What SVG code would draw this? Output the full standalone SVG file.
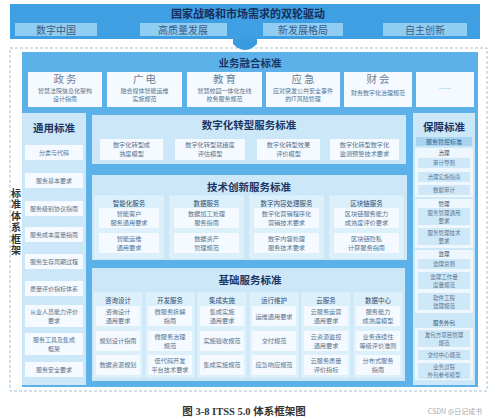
<svg xmlns="http://www.w3.org/2000/svg" width="499" height="419" viewBox="0 0 499 419">
<style>
text{font-family:"Noto Sans CJK SC","Noto Sans",sans-serif;text-anchor:middle}
.h{font-weight:700;fill:#1b3565;font-size:10.5px}
.bt{font-size:10px;fill:#3b5b86}
.it{font-size:6px;fill:#56728f}
.rt{font-size:5.5px;fill:#56728f}
.mi{font-size:6.2px;fill:#56728f}
.ch{font-size:6.5px;fill:#2d4a6e}
.bz{font-size:10.5px;fill:#6b8099;letter-spacing:2px}
.bd{font-size:6px;fill:#56728f}
.wb{fill:#f4faff}
.lp{fill:#cbe7f8}
.col{fill:#dcf0fb;stroke:#eef8ff;stroke-width:0.6}
.grp{fill:#eef7fd}
.rb{fill:#cfe8f8}
</style>
<rect width="499" height="419" fill="#ffffff"/>
<g id="banner">
<rect x="10" y="4" width="470" height="35" fill="#3ea0e2"/>
<text x="248" y="18" style="font-size:11px;font-weight:700;fill:#182d5a">国家战略和市场需求的双轮驱动</text>
<rect x="15" y="23" width="82" height="13" fill="#8fcdf2"/>
<text class="bt" x="56" y="33.5">数字中国</text>
<rect x="140" y="23" width="87" height="13" fill="#8fcdf2"/>
<text class="bt" x="183" y="33.5">高质量发展</text>
<rect x="263" y="23" width="80" height="13" fill="#8fcdf2"/>
<text class="bt" x="303" y="33.5">新发展格局</text>
<rect x="383" y="23" width="84" height="13" fill="#8fcdf2"/>
<text class="bt" x="425" y="33.5">自主创新</text>
</g>
<g id="connectors">
<rect x="10" y="48" width="477" height="343" fill="none" stroke="#8aaecb" stroke-width="0.8" stroke-dasharray="3 2"/>
<path d="M233,39 L257,39 L257,44 Q245,56 233,44 Z" fill="#3a9be0"/>
</g>
<rect x="22" y="52" width="456" height="335" fill="#5cb1e9"/>
<g id="business">
<text class="h" x="250" y="66.5">业务融合标准</text>
<rect class="wb" x="28" y="72" width="74" height="35"/>
<text class="bz" x="66" y="83">政务</text>
<text class="bd" x="65" y="93">智慧法院信息化架构</text>
<text class="bd" x="65" y="101">设计指南</text>
<rect class="wb" x="107" y="72" width="75" height="35"/>
<text class="bz" x="145.5" y="83">广电</text>
<text class="bd" x="144.5" y="93">融合媒体智能运维</text>
<text class="bd" x="144.5" y="101">实施规范</text>
<rect class="wb" x="187" y="72" width="75" height="35"/>
<text class="bz" x="225.5" y="83">教育</text>
<text class="bd" x="224.5" y="93">智慧校园一体化在线</text>
<text class="bd" x="224.5" y="101">校务服务规范</text>
<rect class="wb" x="266" y="72" width="74" height="35"/>
<text class="bz" x="304" y="83">应急</text>
<text class="bd" x="303" y="93">应对突发公共安全事件</text>
<text class="bd" x="303" y="101">的IT风险管理</text>
<rect class="wb" x="344" y="72" width="68" height="35"/>
<text class="bz" x="379" y="83">财会</text>
<text class="bd" x="378" y="95">财务数字化治理规范</text>
<rect class="wb" x="416" y="72" width="58" height="35"/>
<text class="bd" x="445" y="91">……</text>
</g>
<g id="general">
<rect class="lp" x="22" y="113" width="64" height="272"/>
<text class="h" x="54" y="132">通用标准</text>
<rect class="wb" x="25" y="145" width="58" height="15"/><text class="it" x="54" y="155">分类与代码</text>
<rect class="wb" x="25" y="173" width="58" height="15"/><text class="it" x="54" y="183">服务基本要求</text>
<rect class="wb" x="25" y="201" width="58" height="15"/><text class="it" x="54" y="211">服务级别协议指南</text>
<rect class="wb" x="25" y="227" width="58" height="15"/><text class="it" x="54" y="237">服务成本度量指南</text>
<rect class="wb" x="25" y="254" width="58" height="15"/><text class="it" x="54" y="264">服务生存周期过程</text>
<rect class="wb" x="25" y="281" width="58" height="15"/><text class="it" x="54" y="291">质量评价指标体系</text>
<rect class="wb" x="25" y="305" width="58" height="22"/><text class="it" x="54" y="313.5">从业人员能力评价</text><text class="it" x="54" y="322.5">要求</text>
<rect class="wb" x="25" y="333" width="58" height="22"/><text class="it" x="54" y="341.5">服务工具及集成</text><text class="it" x="54" y="350.5">框架</text>
<rect class="wb" x="25" y="362" width="58" height="15"/><text class="it" x="54" y="372">服务安全要求</text>
</g>
<g id="vlabel">
<text x="16" y="188" style="font-size:10px;fill:#333;font-weight:700;writing-mode:vertical-rl;text-anchor:start;letter-spacing:1.5px">标准体系框架</text>
</g>
<g id="digital">
<rect class="lp" x="92" y="115" width="314" height="49"/>
<text class="h" x="249" y="129">数字化转型服务标准</text>
<rect class="wb" x="100" y="139" width="63" height="21"/><text class="mi" x="131.5" y="146.5">数字化转型成</text><text class="mi" x="131.5" y="155.5">熟度模型</text>
<rect class="wb" x="175" y="139" width="70" height="21"/><text class="mi" x="210" y="146.5">数字化转型就绪度</text><text class="mi" x="210" y="155.5">评估模型</text>
<rect class="wb" x="257" y="139" width="63" height="21"/><text class="mi" x="288.5" y="146.5">数字化转型效果</text><text class="mi" x="288.5" y="155.5">评价模型</text>
<rect class="wb" x="330" y="139" width="69" height="21"/><text class="mi" x="364.5" y="146.5">数字化转型数字化</text><text class="mi" x="364.5" y="155.5">监测预警技术要求</text>
</g>
<g id="tech">
<rect class="lp" x="92" y="175" width="315" height="85"/>
<text class="h" x="249" y="191">技术创新服务标准</text>
<rect class="col" x="95" y="196" width="68" height="62"/>
<text class="ch" x="129" y="205.5">智能化服务</text>
<rect class="wb" x="99" y="208" width="60" height="20"/><text class="mi" x="129" y="215.5">智能客户</text><text class="mi" x="129" y="224.5">服务通用要求</text>
<rect class="wb" x="99" y="233" width="60" height="20"/><text class="mi" x="129" y="241">智能运维</text><text class="mi" x="129" y="250">通用要求</text>
<rect class="col" x="170" y="196" width="73" height="62"/>
<text class="ch" x="206.5" y="205.5">数据服务</text>
<rect class="wb" x="174" y="208" width="65" height="20"/><text class="mi" x="206.5" y="215.5">数据加工处理</text><text class="mi" x="206.5" y="224.5">服务指南</text>
<rect class="wb" x="174" y="233" width="65" height="20"/><text class="mi" x="206.5" y="241">数据资产</text><text class="mi" x="206.5" y="250">管理规范</text>
<rect class="col" x="250" y="196" width="73" height="62"/>
<text class="ch" x="286.5" y="205.5">数字内容处理服务</text>
<rect class="wb" x="254" y="208" width="65" height="20"/><text class="mi" x="286.5" y="215.5">数字化营销程序化</text><text class="mi" x="286.5" y="224.5">营销技术要求</text>
<rect class="wb" x="254" y="233" width="65" height="20"/><text class="mi" x="286.5" y="241">数字内容处理</text><text class="mi" x="286.5" y="250">服务技术要求</text>
<rect class="col" x="330" y="196" width="73" height="62"/>
<text class="ch" x="366.5" y="205.5">区块链服务</text>
<rect class="wb" x="334" y="208" width="65" height="20"/><text class="mi" x="366.5" y="215.5">区块链服务能力</text><text class="mi" x="366.5" y="224.5">成熟度评价要求</text>
<rect class="wb" x="334" y="233" width="65" height="20"/><text class="mi" x="366.5" y="241">区块链隐私</text><text class="mi" x="366.5" y="250">计算服务指南</text>
</g>
<g id="basic">
<rect class="lp" x="92" y="268" width="313" height="113"/>
<text class="h" x="250" y="284">基础服务标准</text>
<rect class="col" x="94" y="293" width="48" height="84"/>
<text class="ch" x="118" y="303">咨询设计</text>
<rect class="wb" x="96" y="306" width="44" height="20"/><text class="mi" x="118" y="314">咨询设计</text><text class="mi" x="118" y="323">通用要求</text>
<rect class="wb" x="96" y="331" width="44" height="20"/><text class="mi" x="118" y="343">规划设计指南</text>
<rect class="wb" x="96" y="355" width="44" height="20"/><text class="mi" x="118" y="367">数据资源规划</text>
<rect class="col" x="146" y="293" width="48" height="84"/>
<text class="ch" x="170" y="303">开发服务</text>
<rect class="wb" x="148" y="306" width="44" height="20"/><text class="mi" x="170" y="314">微服务拆解</text><text class="mi" x="170" y="323">指南</text>
<rect class="wb" x="148" y="331" width="44" height="20"/><text class="mi" x="170" y="339">微服务治理</text><text class="mi" x="170" y="348">规范</text>
<rect class="wb" x="148" y="355" width="44" height="20"/><text class="mi" x="170" y="363">低代码开发</text><text class="mi" x="170" y="372">平台技术要求</text>
<rect class="col" x="198" y="293" width="48" height="84"/>
<text class="ch" x="222" y="303">集成实施</text>
<rect class="wb" x="200" y="306" width="44" height="20"/><text class="mi" x="222" y="314">集成实施</text><text class="mi" x="222" y="323">通用要求</text>
<rect class="wb" x="200" y="331" width="44" height="20"/><text class="mi" x="222" y="343">实施验收规范</text>
<rect class="wb" x="200" y="355" width="44" height="20"/><text class="mi" x="222" y="367">集成实施规范</text>
<rect class="col" x="250" y="293" width="48" height="84"/>
<text class="ch" x="274" y="303">运行维护</text>
<rect class="wb" x="252" y="306" width="44" height="20"/><text class="mi" x="274" y="318.5">运维通用要求</text>
<rect class="wb" x="252" y="331" width="44" height="20"/><text class="mi" x="274" y="343">交付规范</text>
<rect class="wb" x="252" y="355" width="44" height="20"/><text class="mi" x="274" y="367">应急响应规范</text>
<rect class="col" x="302" y="293" width="48" height="84"/>
<text class="ch" x="326" y="303">云服务</text>
<rect class="wb" x="304" y="306" width="44" height="20"/><text class="mi" x="326" y="314">云服务运营</text><text class="mi" x="326" y="323">通用要求</text>
<rect class="wb" x="304" y="331" width="44" height="20"/><text class="mi" x="326" y="339">云资源监控</text><text class="mi" x="326" y="348">通用要求</text>
<rect class="wb" x="304" y="355" width="44" height="20"/><text class="mi" x="326" y="363">云服务质量</text><text class="mi" x="326" y="372">评价指标</text>
<rect class="col" x="354" y="293" width="48" height="84"/>
<text class="ch" x="378" y="303">数据中心</text>
<rect class="wb" x="356" y="306" width="44" height="20"/><text class="mi" x="378" y="314">服务能力</text><text class="mi" x="378" y="323">成熟度模型</text>
<rect class="wb" x="356" y="331" width="44" height="20"/><text class="mi" x="378" y="339">业务连续性</text><text class="mi" x="378" y="348">等级评价准则</text>
<rect class="wb" x="356" y="355" width="44" height="20"/><text class="mi" x="378" y="363">分布式服务</text><text class="mi" x="378" y="372">指南</text>
</g>
<g id="guarantee">
<rect class="lp" x="413" y="113" width="62" height="272"/>
<text class="h" x="444" y="131">保障标准</text>
<rect x="416" y="137" width="56" height="9" fill="#a8d4f0"/>
<text class="it" x="444" y="144" style="fill:#2f5f92">服务管控标准</text>
<rect class="grp" x="415" y="148" width="58" height="49"/>
<text class="rt" x="444" y="155" style="fill:#2d4a6e">治理</text>
<rect class="rb" x="418" y="158" width="52" height="10"/><text class="rt" x="444" y="165">审计导则</text>
<rect class="rb" x="418" y="172" width="52" height="10"/><text class="rt" x="444" y="179">治理实施指南</text>
<rect class="rb" x="418" y="185" width="52" height="10"/><text class="rt" x="444" y="192">数据审计</text>
<rect class="grp" x="415" y="199" width="58" height="49"/>
<text class="rt" x="444" y="205.5" style="fill:#2d4a6e">管理</text>
<rect class="rb" x="418" y="208" width="52" height="17"/><text class="rt" x="444" y="214.5">服务管理通用</text><text class="rt" x="444" y="222.5">要求</text>
<rect class="rb" x="418" y="228" width="52" height="17"/><text class="rt" x="444" y="234.5">服务管理技术</text><text class="rt" x="444" y="242.5">要求</text>
<rect class="grp" x="415" y="250" width="58" height="63"/>
<text class="rt" x="444" y="256" style="fill:#2d4a6e">监理</text>
<rect class="rb" x="418" y="259" width="52" height="10"/><text class="rt" x="444" y="266">监理总则</text>
<rect class="rb" x="418" y="272" width="52" height="17"/><text class="rt" x="444" y="278.5">监理工作量</text><text class="rt" x="444" y="286.5">度量规范</text>
<rect class="rb" x="418" y="293" width="52" height="17"/><text class="rt" x="444" y="299.5">软件工程</text><text class="rt" x="444" y="307.5">监理规范</text>
<text class="rt" x="444" y="325" style="fill:#2d4a6e">服务外包</text>
<rect class="grp" x="415" y="328" width="58" height="52"/>
<rect class="rb" x="418" y="330" width="52" height="17"/><text class="rt" x="444" y="336.5">发包方项目管理</text><text class="rt" x="444" y="344.5">规范</text>
<rect class="rb" x="418" y="350" width="52" height="10"/><text class="rt" x="444" y="357">交付中心规范</text>
<rect class="rb" x="418" y="363" width="52" height="16"/><text class="rt" x="444" y="368.5">业务过程</text><text class="rt" x="444" y="376.5">外包参考模型</text>
</g>
<g id="caption">
<text x="244" y="415" style="font-family:'Liberation Serif','Noto Sans CJK SC',serif;font-size:10.5px;font-weight:700;fill:#333">图 3-8   ITSS 5.0 体系框架图</text>
<text x="455" y="414" style="font-size:7px;fill:#aaaaaa">CSDN @日记成书</text>
</g>
</svg>
